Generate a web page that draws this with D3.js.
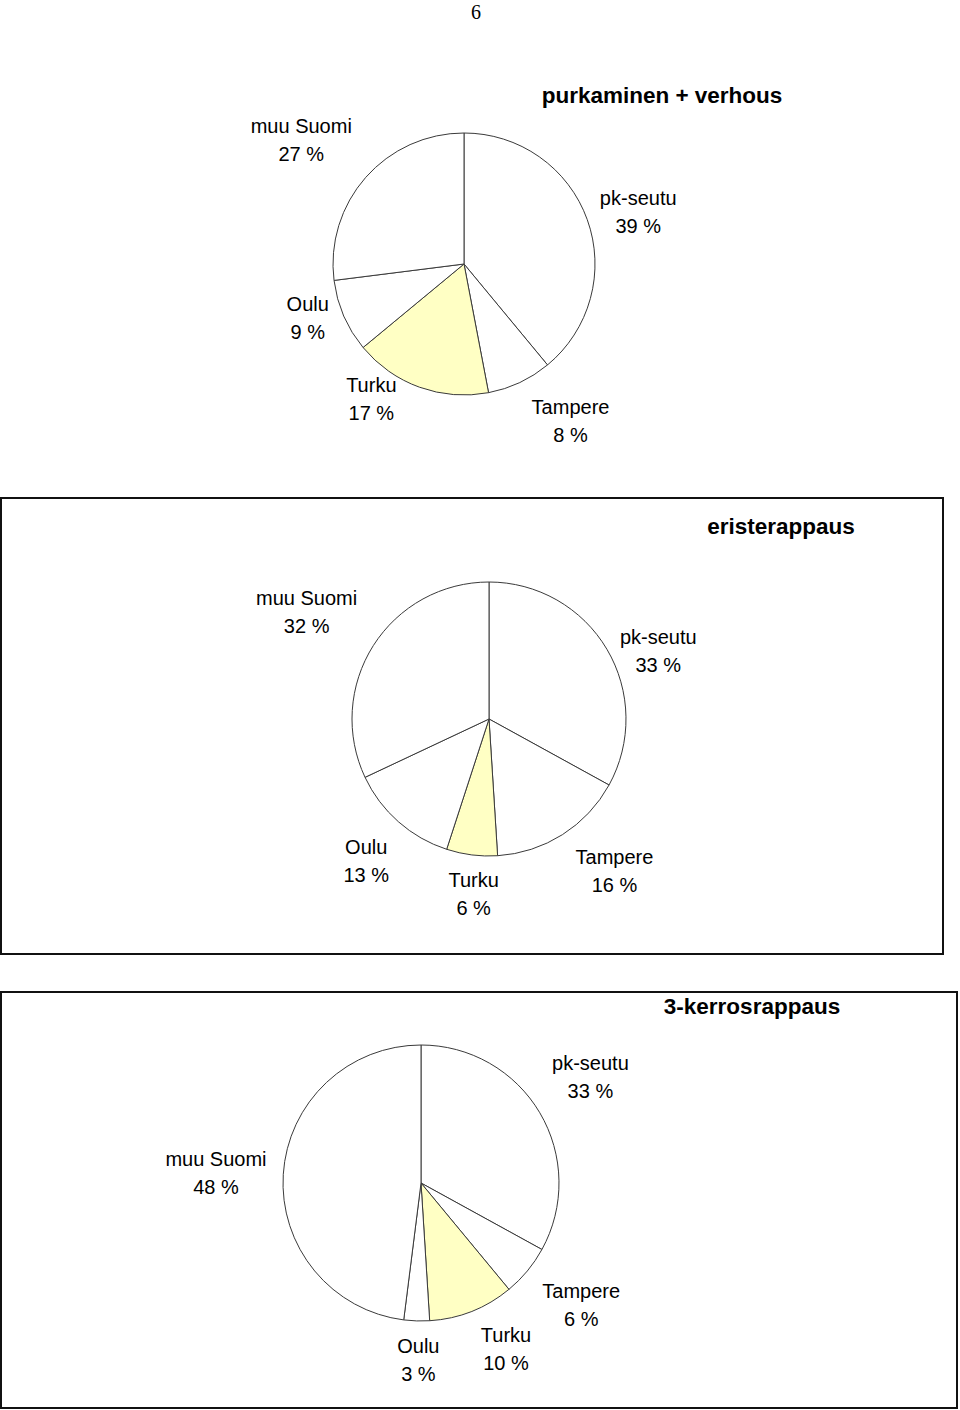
<!DOCTYPE html>
<html>
<head>
<meta charset="utf-8">
<script src="https://cdn.jsdelivr.net/npm/d3@7"></script>
<style>
  body { margin: 0; background: #fff; }
  svg { display: block; }
</style>
</head>
<body>
<svg id="chart" width="960" height="1410"></svg>
<script>
// regions, same order in every pie (clockwise from 12 o'clock)
var regions = ['pk-seutu', 'Tampere', 'Turku', 'Oulu', 'muu Suomi'];

// shares in percent
var purkaminen = [39, 8, 17, 9, 27];
var eristerappaus = [33, 16, 6, 13, 32];
var kerrosrappaus = [33, 6, 10, 3, 48];

var titles = ['purkaminen + verhous', 'eristerappaus', '3-kerrosrappaus'];

// layout per chart
var charts = [
  {values: purkaminen, cx: 464, cy: 264, r: 131, title: [662, 95], frame: null,
   nudge: [[14, 6], [34, 3], [-35, -25], [0, -14], [-35, -11]]},
  {values: eristerappaus, cx: 489, cy: 719, r: 137, title: [781, 526], frame: [1, 498, 942, 456],
   nudge: [[16, 23], [30, 2], [7, -2], [-5, 8], [-32, -12]]},
  {values: kerrosrappaus, cx: 421, cy: 1183, r: 138, title: [752, 1006], frame: [1, 992, 956, 416],
   nudge: [[15, -15], [22, 8], [19, -1], [3, -2], [-26, 1]]}
];

var svg = d3.select('#chart');

// page number
svg.append('text')
  .attr('x', 476).attr('y', 19)
  .attr('text-anchor', 'middle')
  .style('font', '20px "Liberation Serif", "Times New Roman", serif')
  .text('6');

var pie = d3.pie().sort(null).value(d => d);

charts.forEach((c, ci) => {
  if (c.frame) {
    svg.append('rect')
      .attr('x', c.frame[0]).attr('y', c.frame[1])
      .attr('width', c.frame[2]).attr('height', c.frame[3])
      .attr('fill', 'none')
      .attr('stroke', '#111')
      .attr('stroke-width', 2);
  }

  svg.append('text')
    .attr('x', c.title[0]).attr('y', c.title[1])
    .attr('text-anchor', 'middle')
    .attr('dominant-baseline', 'central')
    .style('font', 'bold 22.5px "Liberation Sans", Arial, sans-serif')
    .attr('fill', '#000')
    .text(titles[ci]);

  var g = svg.append('g').attr('transform', `translate(${c.cx},${c.cy})`);
  var arcs = pie(c.values);
  var arc = d3.arc().innerRadius(0).outerRadius(c.r);
  var labelArc = d3.arc().innerRadius(c.r * 1.3).outerRadius(c.r * 1.3);

  g.selectAll('path')
    .data(arcs)
    .enter()
    .append('path')
    .attr('d', arc)
    .attr('fill', (d, i) => regions[i] === 'Turku' ? '#ffffc4' : '#fff')
    .attr('stroke', '#3a3a3a')
    .attr('stroke-width', 1)
    .attr('stroke-linejoin', 'round');

  var lab = g.selectAll('.lab')
    .data(arcs)
    .enter()
    .append('text')
    .attr('class', 'lab')
    .attr('transform', (d, i) => {
      var p = labelArc.centroid(d);
      return `translate(${p[0] + c.nudge[i][0]},${p[1] + c.nudge[i][1]})`;
    })
    .attr('text-anchor', 'middle')
    .style('font', '20px "Liberation Sans", Arial, sans-serif')
    .attr('fill', '#000');

  lab.append('tspan')
    .attr('x', 0).attr('y', -14)
    .attr('dominant-baseline', 'central')
    .text((d, i) => regions[i]);
  lab.append('tspan')
    .attr('x', 0).attr('y', 14)
    .attr('dominant-baseline', 'central')
    .text(d => d.data + ' %');
});
</script>
</body>
</html>
